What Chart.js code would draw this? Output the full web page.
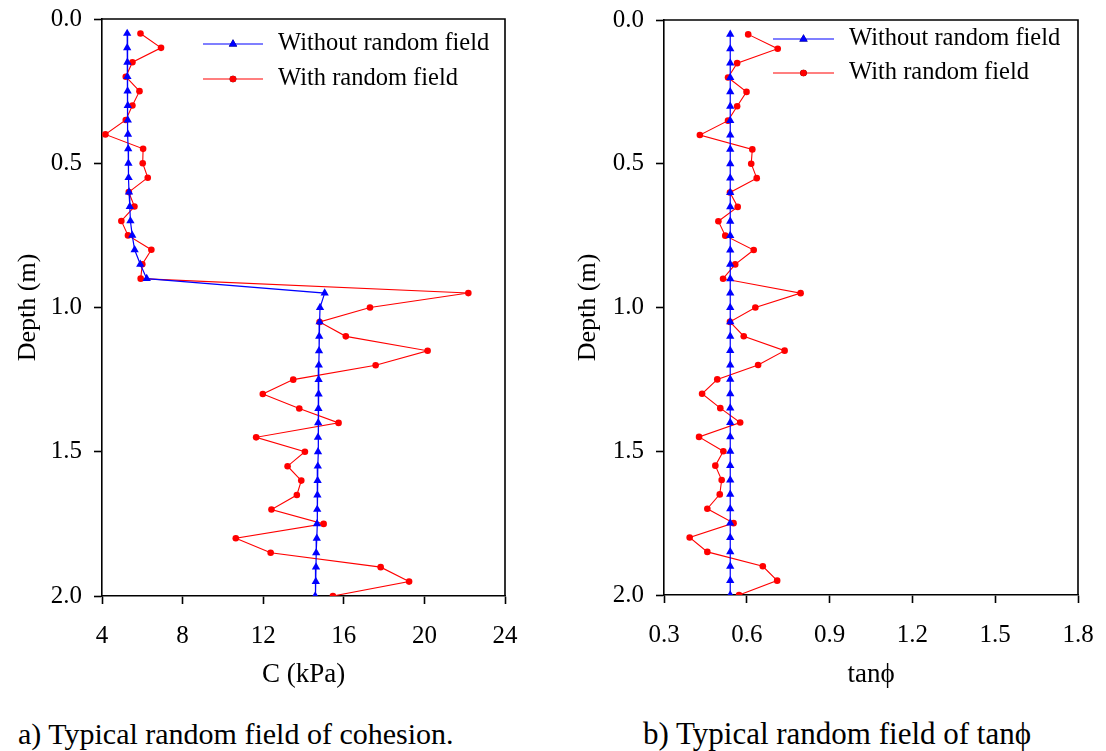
<!DOCTYPE html>
<html>
<head>
<meta charset="utf-8">
<script src="https://cdn.jsdelivr.net/npm/chart.js@4.4.1/dist/chart.umd.min.js"></script>
<style>
  html, body { margin: 0; padding: 0; background: #fff; }
  body { width: 1106px; height: 751px; position: relative; overflow: hidden; font-family: "Liberation Serif", "Times New Roman", serif; }
  .wrap { position: absolute; top: 0; height: 700px; }
  .cap { position: absolute; color: #000; white-space: nowrap; line-height: 1; }
</style>
</head>
<body>
<div class="wrap" style="left:0;width:553px;"><canvas id="c1" width="553" height="700"></canvas></div>
<div class="wrap" style="left:560px;width:546px;"><canvas id="c2" width="546" height="700"></canvas></div>
<div class="cap" id="capA" style="left:18px;top:719px;font-size:30px;">a) Typical random field of cohesion.</div>
<div class="cap" id="capB" style="left:643px;top:718px;font-size:31px;">b) Typical random field of tanϕ</div>
<script>
// ---------------- data ----------------
const depths = [0.05,0.10,0.15,0.20,0.25,0.30,0.35,0.40,0.45,0.50,
                0.55,0.60,0.65,0.70,0.75,0.80,0.85,0.90,0.95,1.00,
                1.05,1.10,1.15,1.20,1.25,1.30,1.35,1.40,1.45,1.50,
                1.55,1.60,1.65,1.70,1.75,1.80,1.85,1.90,1.95,2.00];

const cohesionWithout = [5.25,5.25,5.26,5.26,5.27,5.28,5.28,5.29,5.30,5.31,
                         5.32,5.34,5.38,5.41,5.50,5.62,5.90,6.22,15.05,14.82,
                         14.80,14.78,14.77,14.76,14.75,14.75,14.74,14.73,14.72,14.72,
                         14.71,14.70,14.69,14.68,14.67,14.66,14.63,14.62,14.61,14.58];

const cohesionWith = [5.91,6.93,5.51,5.18,5.86,5.51,5.18,4.17,6.04,6.02,
                      6.27,5.33,5.61,4.96,5.29,6.45,6.00,5.92,22.18,17.30,
                      14.80,16.10,20.16,17.58,13.49,11.98,13.79,15.74,11.65,14.07,
                      13.21,13.89,13.67,12.41,15.00,10.64,12.37,17.83,19.24,15.46];

const tanWithout = [0.54,0.54,0.54,0.54,0.54,0.54,0.54,0.54,0.54,0.54,
                    0.54,0.54,0.54,0.54,0.54,0.54,0.54,0.54,0.54,0.54,
                    0.54,0.54,0.54,0.54,0.54,0.54,0.54,0.54,0.54,0.54,
                    0.54,0.54,0.54,0.54,0.54,0.54,0.54,0.54,0.54,0.54];

const tanWith = [0.605,0.712,0.565,0.532,0.599,0.565,0.532,0.430,0.620,0.616,
                 0.636,0.539,0.567,0.497,0.522,0.625,0.558,0.514,0.795,0.631,
                 0.539,0.589,0.737,0.641,0.493,0.438,0.504,0.576,0.427,0.515,
                 0.486,0.509,0.502,0.457,0.552,0.393,0.457,0.658,0.710,0.572];

const seriesNames = ["Without random field", "With random field"];
const depthTicks = [0.0, 0.5, 1.0, 1.5, 2.0];
const cohesionTicks = [4, 8, 12, 16, 20, 24];
const tanTicks = [0.3, 0.6, 0.9, 1.2, 1.5, 1.8];

// ---------------- helpers ----------------
const FONT = "'Liberation Serif', 'Times New Roman', serif";
const toPts = (xs) => xs.map((v, i) => ({ x: v, y: depths[i] }));

function makeDatasets(withoutVals, withVals) {
  return [
    { label: seriesNames[0], data: toPts(withoutVals), showLine: true,
      borderColor: '#0000ff', backgroundColor: '#0000ff', borderWidth: 1.2,
      pointStyle: 'triangle', pointRadius: 4.8, pointBorderWidth: 0, pointBackgroundColor: '#0000ff' },
    { label: seriesNames[1], data: toPts(withVals), showLine: true,
      borderColor: '#ff0000', backgroundColor: '#ff0000', borderWidth: 1.1,
      pointStyle: 'circle', pointRadius: 3.3, pointBorderWidth: 0, pointBackgroundColor: '#ff0000' }
  ];
}

const framePlugin = {
  id: 'frame',
  afterDraw(chart) {
    const { ctx, chartArea: a } = chart;
    ctx.save();
    ctx.strokeStyle = '#000';
    ctx.lineWidth = 1.6;
    ctx.beginPath();
    ctx.moveTo(a.left, a.top); ctx.lineTo(a.right, a.top); ctx.lineTo(a.right, a.bottom);
    ctx.stroke();
    ctx.restore();
  }
};

const legendPlugin = {
  id: 'lineLegend',
  afterDraw(chart, args, opts) {
    const { ctx } = chart;
    ctx.save();
    chart.data.datasets.forEach((ds, i) => {
      const y = opts.rows[i];
      ctx.strokeStyle = ds.borderColor; ctx.lineWidth = ds.borderWidth;
      ctx.beginPath(); ctx.moveTo(opts.x0, y); ctx.lineTo(opts.x1, y); ctx.stroke();
      Chart.helpers.drawPoint(ctx, { pointStyle: ds.pointStyle, radius: ds.pointRadius, borderWidth: 0, rotation: 0 },
        (opts.x0 + opts.x1) / 2, y);
      ctx.fillStyle = ds.pointBackgroundColor;
      ctx.fill();
      ctx.fillStyle = '#000';
      ctx.font = '24.5px ' + FONT;
      ctx.textBaseline = 'middle'; ctx.textAlign = 'left';
      ctx.fillText(ds.label, opts.textX, y);
    });
    ctx.restore();
  }
};

function makeChart(id, withoutVals, withVals, xTicks, xTitle, xDecimals, layout, legend) {
  const xmin = xTicks[0], xmax = xTicks[xTicks.length - 1];
  return new Chart(document.getElementById(id), {
    type: 'scatter',
    data: { datasets: makeDatasets(withoutVals, withVals) },
    options: {
      responsive: false, animation: false, devicePixelRatio: 1,
      layout: { padding: { left: 0, right: layout.right, top: layout.top, bottom: 0 } },
      plugins: { legend: { display: false }, tooltip: { enabled: false }, lineLegend: legend },
      scales: {
        x: {
          type: 'linear', position: 'bottom', min: xmin, max: xmax,
          afterBuildTicks: (s) => { s.ticks = xTicks.map(v => ({ value: v })); },
          afterFit: (s) => { s.height = layout.xh; s.paddingLeft = 0; s.paddingRight = 0; },
          grid: { display: true, drawOnChartArea: false, drawTicks: true, tickLength: 8, tickWidth: 1.6, color: '#000' },
          border: { display: true, color: '#000', width: 1.6 },
          ticks: { color: '#000', font: { family: FONT, size: 25 }, padding: 17,
                   callback: (v) => Number(v).toFixed(xDecimals), maxRotation: 0, autoSkip: false },
          title: { display: true, text: xTitle, color: '#000', font: { family: FONT, size: 27 }, padding: { top: 0, bottom: 9 } }
        },
        y: {
          type: 'linear', position: 'left', reverse: true, min: 0, max: 2,
          afterBuildTicks: (s) => { s.ticks = depthTicks.map(v => ({ value: v })); },
          afterFit: (s) => { s.width = layout.yw; s.paddingTop = 0; s.paddingBottom = 0; },
          grid: { display: true, drawOnChartArea: false, drawTicks: true, tickLength: 8, tickWidth: 1.6, color: '#000' },
          border: { display: true, color: '#000', width: 1.6 },
          ticks: { color: '#000', font: { family: FONT, size: 25 }, padding: 12,
                   callback: (v) => Number(v).toFixed(1), autoSkip: false },
          title: { display: true, text: 'Depth (m)', color: '#000', font: { family: FONT, size: 26 }, padding: { top: 13, bottom: 0 } }
        }
      }
    },
    plugins: [framePlugin, legendPlugin]
  });
}

makeChart('c1', cohesionWithout, cohesionWith, cohesionTicks, 'C (kPa)', 0,
  { right: 48, top: 19, xh: 104, yw: 102 },
  { x0: 203, x1: 263, textX: 278, rows: [44, 79] });

makeChart('c2', tanWithout, tanWith, tanTicks, 'tanϕ', 1,
  { right: 28, top: 20, xh: 105, yw: 104 },
  { x0: 213, x1: 274, textX: 289, rows: [39, 73] });
</script>
</body>
</html>
